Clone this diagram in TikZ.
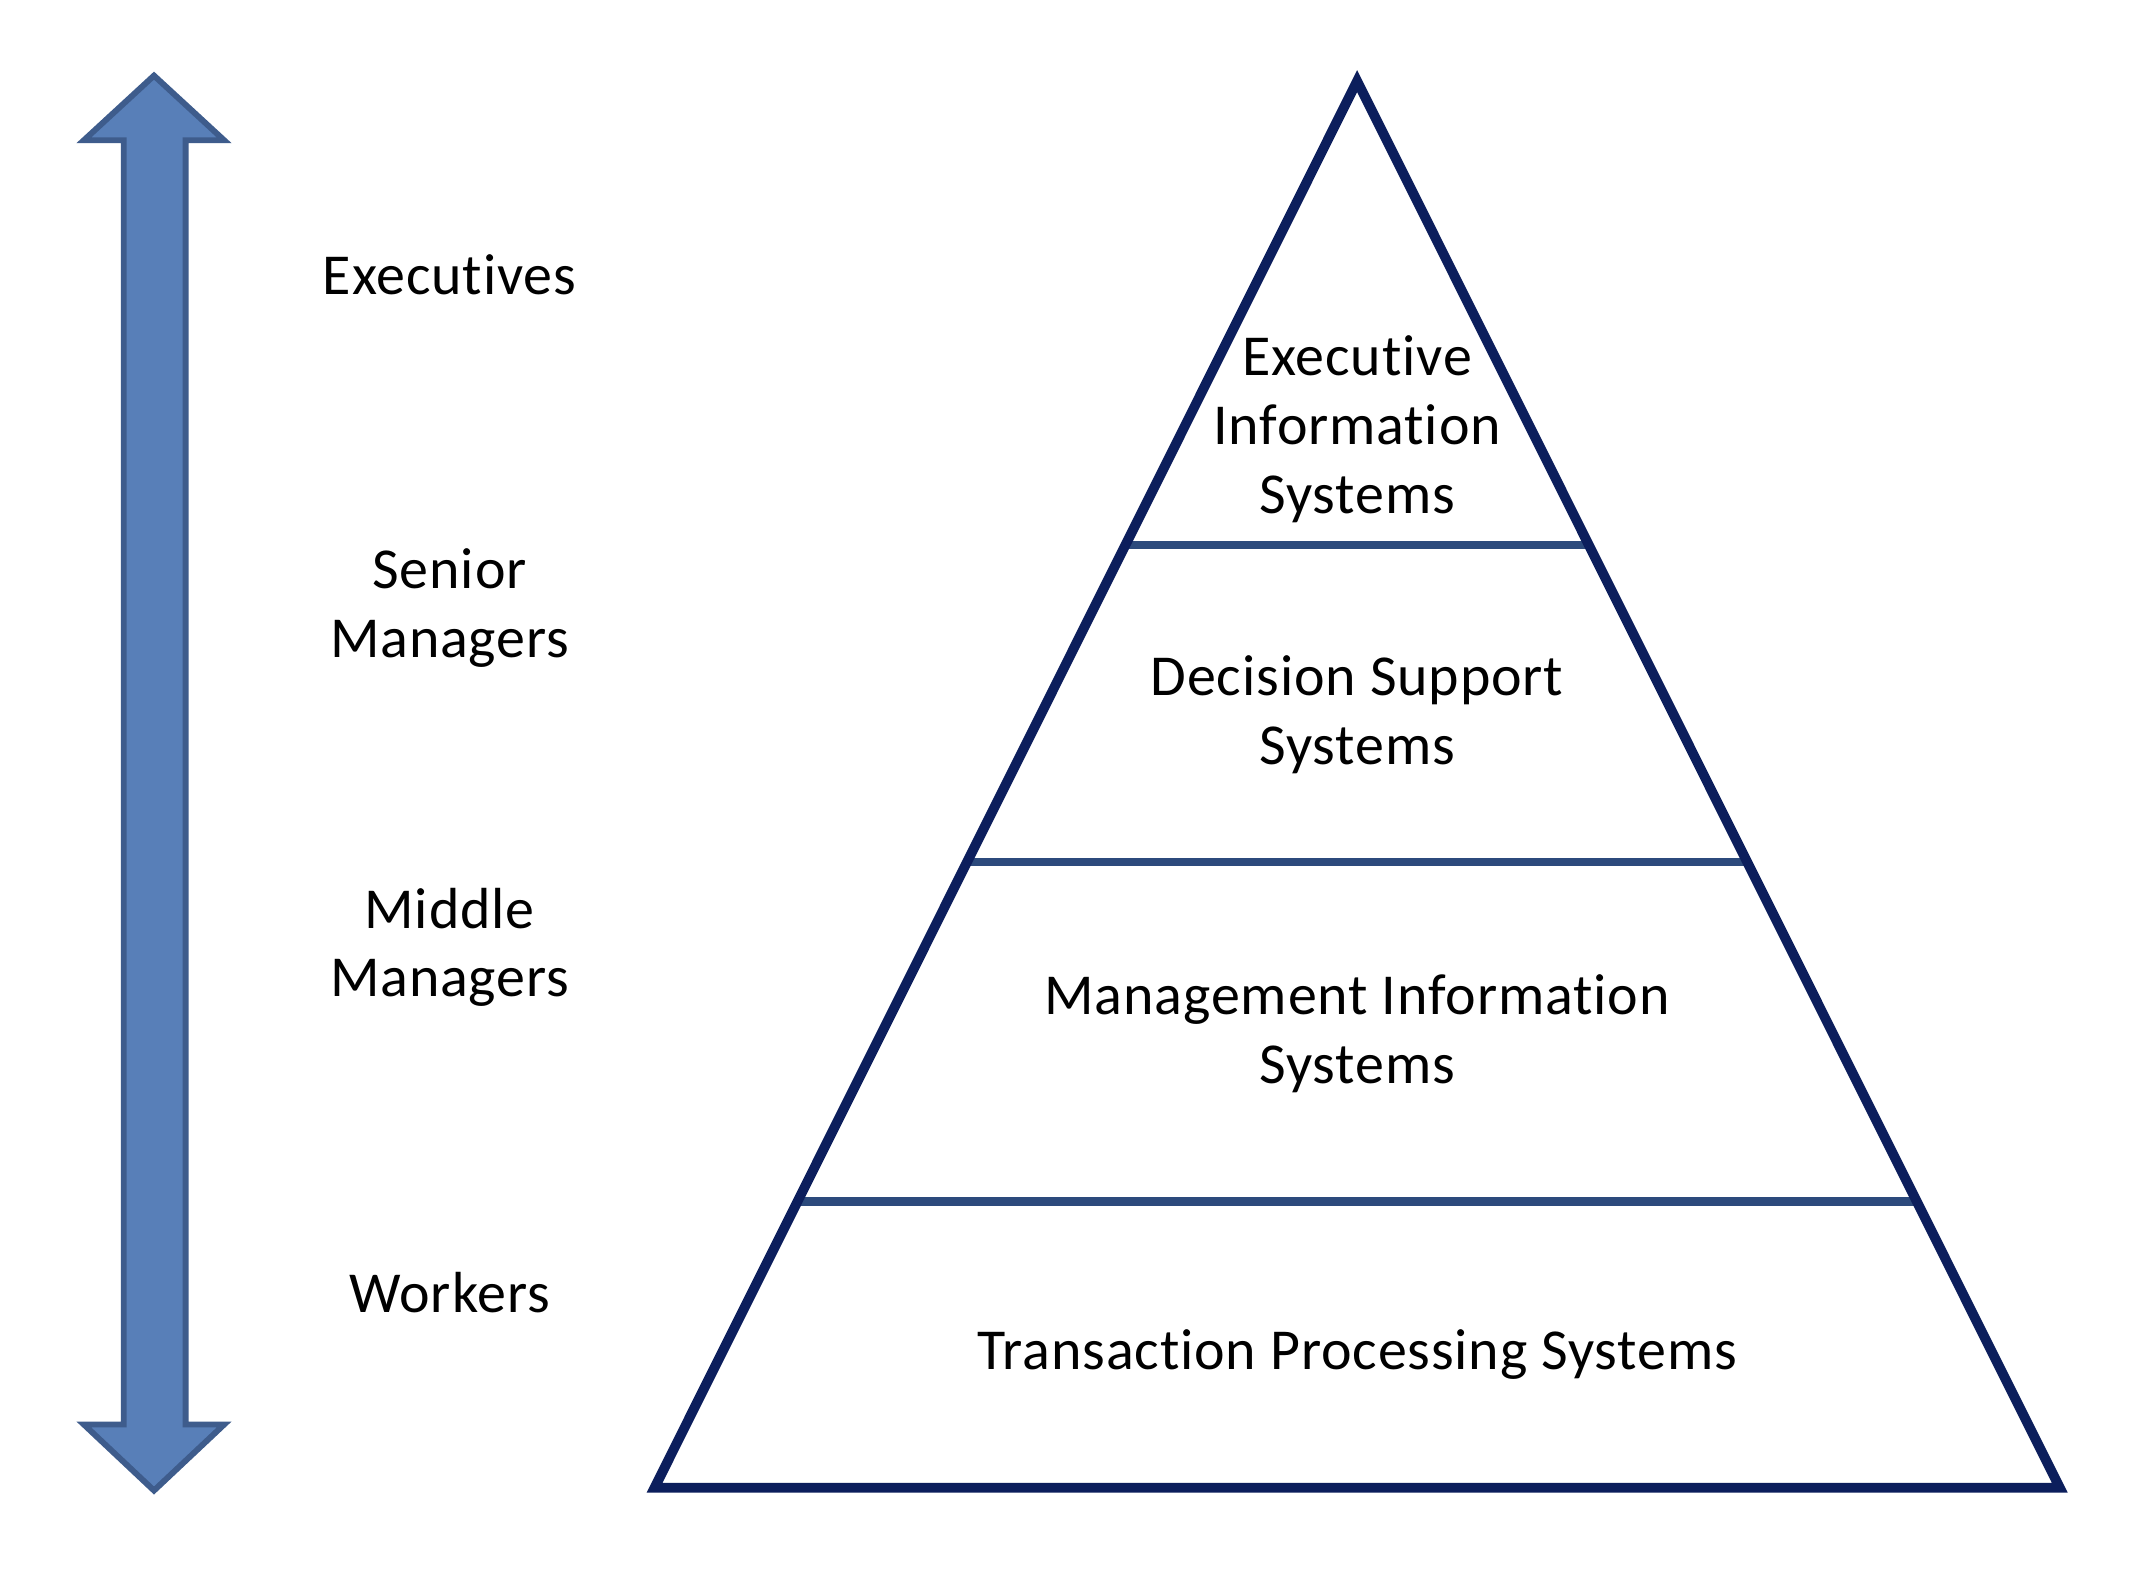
\documentclass[tikz,border=0pt]{standalone}
\usepackage{fontspec}
\setmainfont[Ligatures=NoCommon,LetterSpace=1.5]{Carlito}
\usetikzlibrary{calc}
\definecolor{arrowfill}{RGB}{88,127,184}
\definecolor{arrowline}{RGB}{62,92,140}
\definecolor{pyrline}{RGB}{12,30,92}
\definecolor{divline}{RGB}{44,74,124}
\begin{document}
\begin{tikzpicture}[x=0.7pt,y=-0.7pt,
  txt/.style={font=\fontsize{29.5}{35}\selectfont, align=center, inner sep=0pt},
  divider/.style={divline, line width=4.2pt},
  pyramid/.style={pyrline, line width=5pt, line join=miter},
  bigarrow/.style={arrowline, fill=arrowfill, line width=3pt, line join=miter}]
\useasboundingbox (0,0) rectangle (1568,1142);
\fill[white] (0,0) rectangle (1568,1142);
% double arrow
\draw[bigarrow] (112,55) -- (163,102) -- (135,102) -- (135,1036) -- (163,1036)
  -- (112,1084) -- (61,1036) -- (90,1036) -- (90,102) -- (61,102) -- cycle;
% pyramid corners
\coordinate (A) at (987,59);
\coordinate (BL) at (476,1082);
\coordinate (BR) at (1498,1082);
% divider end points
\coordinate (d1l) at ($(A)!0.330!(BL)$);
\coordinate (d1r) at ($(A)!0.330!(BR)$);
\coordinate (d2l) at ($(A)!0.555!(BL)$);
\coordinate (d2r) at ($(A)!0.555!(BR)$);
\coordinate (d3l) at ($(A)!0.7965!(BL)$);
\coordinate (d3r) at ($(A)!0.7965!(BR)$);
\draw[divider] (d1l) -- (d1r);
\draw[divider] (d2l) -- (d2r);
\draw[divider] (d3l) -- (d3r);
\draw[pyramid] (A) -- (BL) -- (BR) -- cycle;
% left labels
\node[txt] (exe) at (327,200) {Executives};
\node[txt] (sen) at (327,442) {Senior\\Managers};
\node[txt] (mid) at (327,689) {Middle\\Managers};
\node[txt] (wrk) at (327,940) {Workers};
% pyramid labels
\node[txt] (eis) at (987,312) {Executive\\Information\\Systems};
\node[txt] (dss) at (987,520) {Decision Support\\Systems};
\node[txt] (mis) at (987,752) {Management Information\\Systems};
\node[txt] (tps) at (987,985) {Transaction Processing Systems};
\end{tikzpicture}
\end{document}
